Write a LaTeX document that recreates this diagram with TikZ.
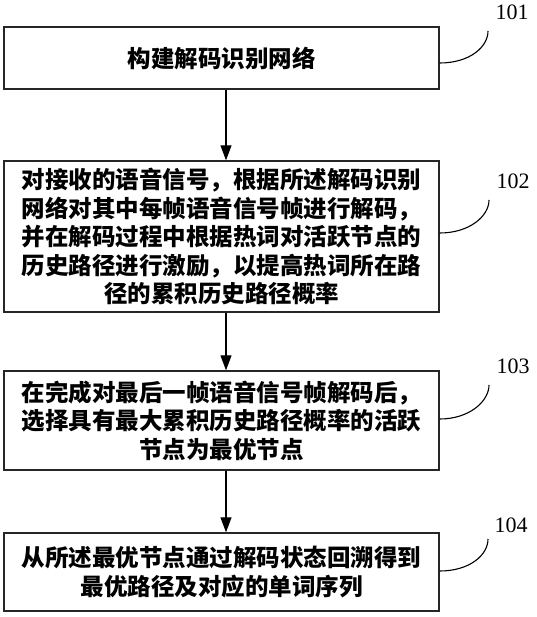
\documentclass[tikz,border=0pt]{standalone}
\usepackage{fontspec}
\setmainfont{Liberation Serif}
\newfontfamily\cjk{Noto Sans CJK SC}
\usetikzlibrary{arrows.meta}
\begin{document}
\begin{tikzpicture}[x=1pt,y=-1pt,
  stepbox/.style={draw=black!85,line width=1.4pt,minimum width=435pt,inner sep=0pt,
    font=\cjk\bfseries\fontsize{23.5}{28.5}\selectfont,align=center,text width=430pt},
  flow/.style={line width=1.2pt,-{Triangle[width=11pt,length=15pt]}},
  leader/.style={line width=1.1pt},
  numlabel/.style={font=\fontsize{22}{22}\selectfont,inner sep=0pt}]
\useasboundingbox (0,0) rectangle (536,617);
\node[stepbox,minimum height=62pt] (b1) at (221.5,58) {构建解码识别网络};
\node[stepbox,minimum height=151pt] (b2) at (221.5,236.5) {对接收的语音信号，根据所述解码识别\\网络对其中每帧语音信号帧进行解码，\\并在解码过程中根据热词对活跃节点的\\历史路径进行激励，以提高热词所在路\\径的累积历史路径概率};
\node[stepbox,minimum height=99pt] (b3) at (221.5,420.5) {在完成对最后一帧语音信号帧解码后，\\选择具有最大累积历史路径概率的活跃\\节点为最优节点};
\node[stepbox,minimum height=78pt] (b4) at (221.5,572) {从所述最优节点通过解码状态回溯得到\\最优路径及对应的单词序列};
\draw[flow] ([xshift=4.5pt]b1.south) -- ([xshift=4.5pt]b2.north);
\draw[flow] ([xshift=4.5pt]b2.south) -- ([xshift=4.5pt]b3.north);
\draw[flow] ([xshift=4.5pt]b3.south) -- ([xshift=4.5pt]b4.north);
\coordinate (e1) at (488,31);
\coordinate (e2) at (489,200);
\coordinate (e3) at (489,385);
\coordinate (e4) at (488,539);
\draw[leader] ([yshift=-5pt]b1.east) .. controls +(30,0) and +(0,16) .. (e1);
\draw[leader] ([yshift=3.5pt]b2.east) .. controls +(30,0) and +(0,16) .. (e2);
\draw[leader] ([yshift=1.5pt]b3.east) .. controls +(30,0) and +(0,16) .. (e3);
\draw[leader] ([yshift=1pt]b4.east) .. controls +(30,0) and +(0,16) .. (e4);
\node[numlabel] (l1) at (512,12) {101};
\node[numlabel] (l2) at (513,181) {102};
\node[numlabel] (l3) at (513,366) {103};
\node[numlabel] (l4) at (511,525) {104};
\end{tikzpicture}
\end{document}
